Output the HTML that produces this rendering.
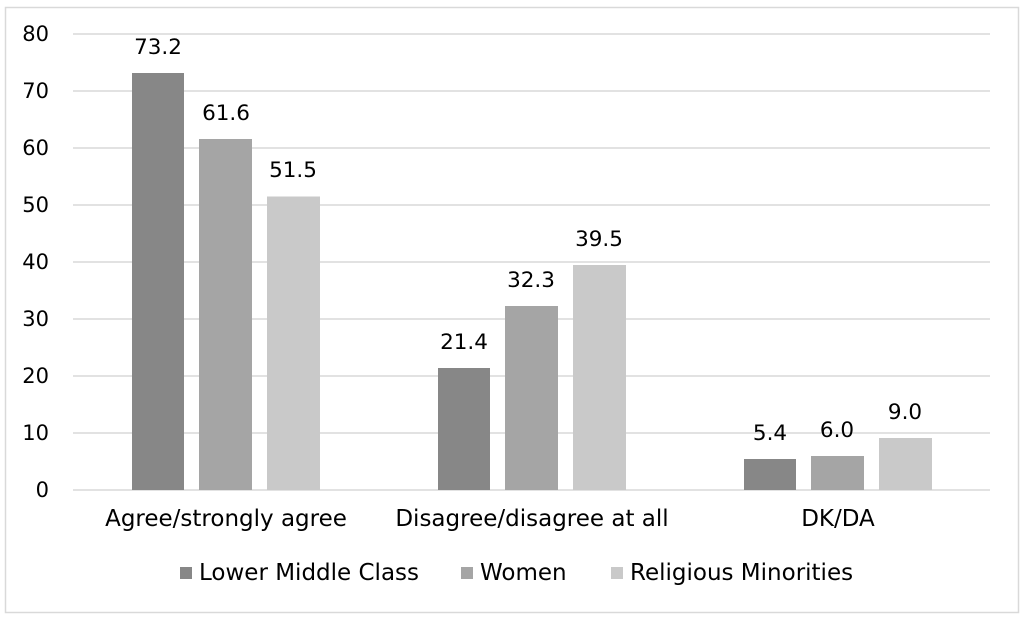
<!DOCTYPE html>
<html><head><meta charset="utf-8"><style>body{margin:0;background:#fff}</style></head><body>
<svg width="1024" height="620" xmlns="http://www.w3.org/2000/svg" font-family="DejaVu Sans, sans-serif" fill="#000">
<rect x="5.5" y="7.5" width="1013" height="605" fill="#fff" stroke="#d9d9d9" stroke-width="1.5"/>
<g stroke="#d9d9d9" stroke-width="1.5">
<line x1="73" x2="990" y1="34" y2="34"/><line x1="73" x2="990" y1="91" y2="91"/><line x1="73" x2="990" y1="148" y2="148"/><line x1="73" x2="990" y1="205" y2="205"/><line x1="73" x2="990" y1="262" y2="262"/><line x1="73" x2="990" y1="319" y2="319"/><line x1="73" x2="990" y1="376" y2="376"/><line x1="73" x2="990" y1="433" y2="433"/><line x1="73" x2="990" y1="490" y2="490"/>
</g>
<g font-size="21" text-anchor="end">
<text x="49" y="41">80</text><text x="49" y="98">70</text><text x="49" y="155">60</text><text x="49" y="212">50</text><text x="49" y="269">40</text><text x="49" y="326">30</text><text x="49" y="383">20</text><text x="49" y="440">10</text><text x="49" y="497">0</text>
</g>
<rect x="132" y="73" width="52" height="417" fill="#878787"/>
<rect x="199" y="139" width="53" height="351" fill="#a5a5a5"/>
<rect x="267" y="196.5" width="53" height="293.5" fill="#c9c9c9"/>
<rect x="438" y="368" width="52" height="122" fill="#878787"/>
<rect x="505" y="306" width="53" height="184" fill="#a5a5a5"/>
<rect x="573" y="265" width="53" height="225" fill="#c9c9c9"/>
<rect x="744" y="459" width="52" height="31" fill="#878787"/>
<rect x="811" y="456" width="53" height="34" fill="#a5a5a5"/>
<rect x="879" y="438" width="53" height="52" fill="#c9c9c9"/>
<g font-size="21.5" text-anchor="middle">
<text x="158" y="54">73.2</text><text x="226" y="120">61.6</text><text x="293" y="177">51.5</text>
<text x="464" y="349">21.4</text><text x="531" y="287">32.3</text><text x="599" y="246">39.5</text>
<text x="770" y="440">5.4</text><text x="837" y="437">6.0</text><text x="905" y="419">9.0</text>
</g>
<g font-size="23" text-anchor="middle">
<text x="226" y="526">Agree/strongly agree</text><text x="532" y="526">Disagree/disagree at all</text><text x="838" y="526">DK/DA</text>
</g>
<rect x="180" y="567" width="12" height="12" fill="#878787"/>
<rect x="461" y="567" width="12" height="12" fill="#a5a5a5"/>
<rect x="611" y="567" width="12" height="12" fill="#c9c9c9"/>
<g font-size="23"><text x="199" y="580">Lower Middle Class</text><text x="480" y="580">Women</text><text x="630" y="580">Religious Minorities</text></g>
</svg>
</body></html>
